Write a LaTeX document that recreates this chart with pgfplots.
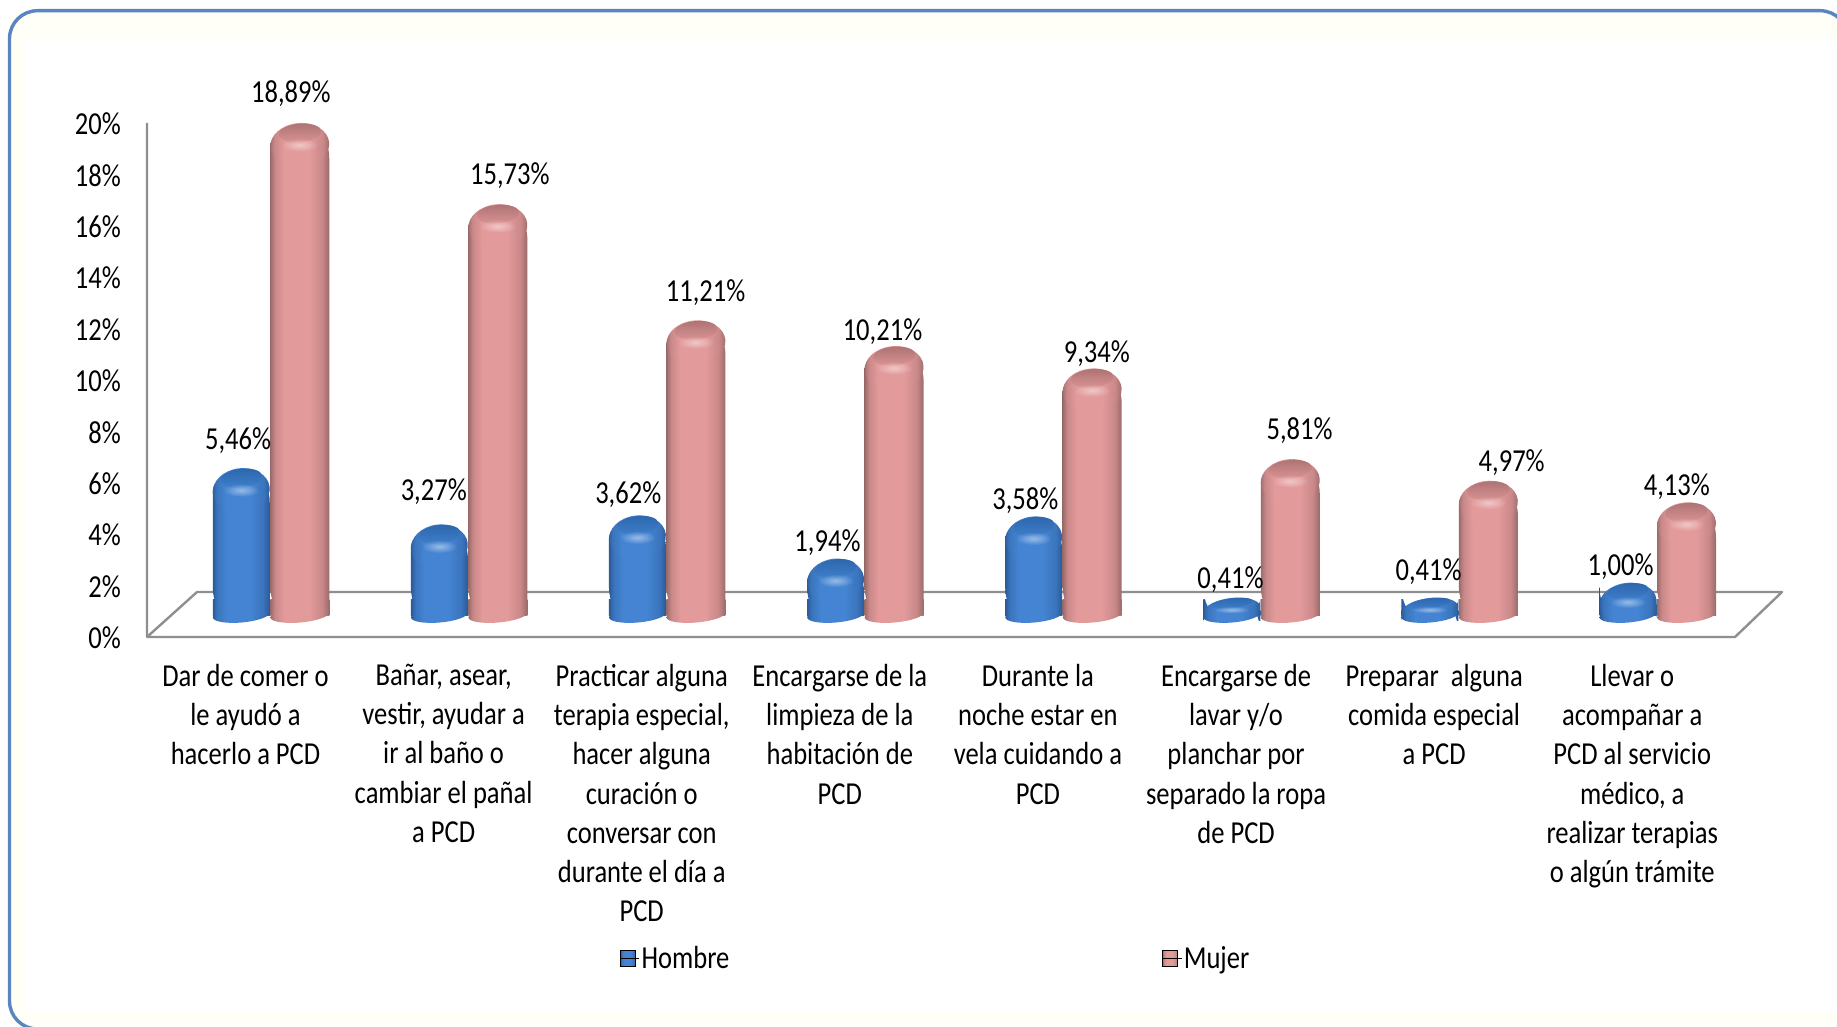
\documentclass[border=0pt]{standalone}
\usepackage{pgfplots}
\pgfplotsset{compat=1.18}
\usepackage{pgfplotstable}
\usepackage{fontspec}
\setmainfont{Carlito}[FakeStretch=0.83]
\usetikzlibrary{fadings,shapes.geometric}
\pgfplotstableread{
i h hdx hdy m mdx mdy
0 5.46 -3.2 34.2 18.89 -8.9 35.7
1 3.27 -5.6 39.0 15.73 12.0 35.0
2 3.62 -9.2 27.7 11.21 9.6 34.0
3 1.94 -8.1 22.6 10.21 -11.6 21.1
4 3.58 -8.3 22.8 9.34 4.7 21.2
5 0.41 -1.3 24.6 5.81 9.3 34.6
6 0.41 -1.3 32.8 4.97 23.3 24.6
7 1.00 -7.4 22.3 4.13 -9.7 22.7
}\datatable
\definecolor{bE}{HTML}{2A5A98}
\definecolor{bM}{HTML}{3A74BC}
\definecolor{bC}{HTML}{4484D2}
\definecolor{bT}{HTML}{2C66AC}
\definecolor{pE}{HTML}{9A6A6A}
\definecolor{pM}{HTML}{C98888}
\definecolor{pC}{HTML}{E39A9B}
\definecolor{pT}{HTML}{AC7272}
\definecolor{framec}{HTML}{5B85C0}
\definecolor{gridc}{HTML}{8F8F8F}
\definecolor{paleb}{HTML}{FFFEF7}
\pgfdeclarehorizontalshading{bluecyl}{100bp}{color(0bp)=(bE);color(25bp)=(bE);color(29bp)=(bM);color(37bp)=(bC);color(58bp)=(bC);color(69bp)=(bM);color(75bp)=(bE);color(100bp)=(bE)}
\pgfdeclarehorizontalshading{pinkcyl}{100bp}{color(0bp)=(pE);color(25bp)=(pE);color(29bp)=(pM);color(37bp)=(pC);color(58bp)=(pC);color(69bp)=(pM);color(75bp)=(pE);color(100bp)=(pE)}
\tikzfading[name=fade out,inner color=transparent!0,outer color=transparent!100]
\tikzset{capnode/.style={shape=ellipse,inner sep=0pt,outer sep=0pt,anchor=center}}
\pgfplotsset{nocoordmark/.style={forget plot,only marks,mark=none,nodes near coords={\null}}}
\begin{document}
\begin{tikzpicture}[x=1pt,y=1pt]
\path[use as bounding box,clip] (0,0) rectangle (1837,1026);
\fill[white] (0,0) rectangle (1837,1026);
\fill[paleb] (10,988) rectangle (1837,1015);
\fill[paleb] (10,0) rectangle (1837,14);
\fill[paleb] (10,0) rectangle (26,1015);
\draw[framec,line width=3.4pt,rounded corners=28pt] (60,-3) -- (9.5,-3) -- (9.5,1015.3) -- (1848,1015.3) -- (1848,900);
% frame, floor and value axis
\begin{axis}[at={(0,0)},anchor=south west,width=1837pt,height=1026pt,scale only axis,
 xmin=0,xmax=1837,ymin=-15.136,ymax=24.786,clip=false,
 axis line style={draw=none},xtick=\empty,
 ytick={0,2,...,20},major tick length=0pt,
 /pgf/number format/assume math mode=true,
 yticklabel={\pgfmathprintnumber{\tick}\%},
 yticklabel style={anchor=east,inner sep=0pt,xshift=121pt,yshift=-1pt,font=\fontsize{32}{39}\selectfont}]
\addplot[gridc,line width=2.4pt,line join=round] coordinates {(147,20) (147,0) (1735,0) (1782,1.75) (197,1.75) (147,0)};
\end{axis}
% bars
\begin{axis}[at={(0,0)},anchor=south west,width=1837pt,height=1026pt,scale only axis,
 xmin=-1.36548,xmax=7.9076,ymin=-15.99,ymax=23.93,clip=false,
 axis line style={draw=none},ytick=\empty,
 xtick={0,...,7},major tick length=0pt,
 xticklabels={{Dar de comer o\\le ayudó a\\hacerlo a PCD},
 {Bañar, asear,\\vestir, ayudar a\\ir al baño o\\cambiar el pañal\\a PCD},
 {Practicar alguna\\terapia especial,\\hacer alguna\\curación o\\conversar con\\durante el día a\\PCD},
 {Encargarse de la\\limpieza de la\\habitación de\\PCD},
 {Durante la\\noche estar en\\vela cuidando a\\PCD},
 {Encargarse de\\lavar y/o\\planchar por\\separado la ropa\\de PCD},
 {Preparar~ alguna\\comida especial\\a PCD},
 {Llevar o\\acompañar a\\PCD al servicio\\médico, a\\realizar terapias\\o algún trámite}},
 xticklabel style={anchor=north,align=center,inner sep=0pt,xshift=-25pt,yshift=362pt,font=\fontsize{32}{39.2}\selectfont},
 /pgf/number format/assume math mode=true,
 legend columns=2,
 legend cell align=left,
 legend style={at={(620/1837,68/1026)},anchor=west,draw=none,fill=none,inner sep=0pt,
   font=\fontsize{32}{38}\selectfont,
   /tikz/every even column/.append style={column sep=431pt}},
 ]
\addlegendimage{legend image code/.code={\fill[shading=bluecyl,shading angle=0] (0pt,-8pt) rectangle (15pt,8pt);\path (0pt,0pt) -- (19pt,0pt);}}
\addlegendentry{Hombre}
\addlegendimage{legend image code/.code={\fill[shading=pinkcyl,shading angle=0] (0pt,-8pt) rectangle (15pt,8pt);\path (0pt,0pt) -- (19pt,0pt);}}
\addlegendentry{Mujer}
% Hombre: base, foot, body, rounded top
\addplot[nocoordmark,nodes near coords style={capnode,xshift=-29.25pt,rotate=5,minimum width=57pt,minimum height=15pt,shading=bluecyl}]
 table[x=i,y expr=0] {\datatable};
\pgfplotsinvokeforeach{0,...,7}{
\addplot[forget plot,ybar,bar width=57pt,bar shift=-29.25pt,draw=none,shading=bluecyl,shading angle=0,
 restrict x to domain=#1:#1] table[x=i,y expr={min(0.62,0.4*\thisrow{h})}] {\datatable};
\addplot[forget plot,ybar,bar width=57pt,bar shift=-29.25pt,draw=none,shading=bluecyl,shading angle=0,
 /utils/exec={\pgfsetcornersarced{\pgfpoint{28pt}{16pt}}},restrict x to domain=#1:#1] table[x=i,y=h] {\datatable};
}
\addplot[nocoordmark,visualization depends on={min(22,(25.7*\thisrow{h}+13)/2)\as\capry},
 nodes near coords style={capnode,xshift=-29.25pt,yshift={(6.5-\capry)*1pt},rotate=7,minimum width=57pt,minimum height={2*\capry*1pt},shading=bluecyl}]
 table[x=i,y=h] {\datatable};
\addplot[nocoordmark,visualization depends on={min(22,(25.7*\thisrow{h}+13)/2)\as\capry},
 nodes near coords style={capnode,xshift=-29.25pt,yshift={(6.5-\capry+.55*\capry)*1pt},rotate=7,minimum width=42pt,minimum height={.84*\capry*1pt},top color=bT,bottom color=bC!85!bT}]
 table[x=i,y=h] {\datatable};
\addplot[nocoordmark,visualization depends on={min(22,(25.7*\thisrow{h}+13)/2)\as\capry},
 nodes near coords style={capnode,xshift=-29.25pt,yshift={(6.5-\capry)*1pt},minimum width=36pt,minimum height={.6*\capry*1pt},fill=white,fill opacity=.45,path fading=fade out}]
 table[x=i,y=h] {\datatable};
% Hombre labels
\addplot[forget plot,only marks,mark=none,
 visualization depends on=\thisrow{hdx}\as\ldx,
 visualization depends on=\thisrow{hdy}\as\ldy,
 nodes near coords={\pgfmathprintnumber[fixed,fixed zerofill,precision=2,use comma]{\pgfplotspointmeta}\%},
 nodes near coords style={anchor=center,inner sep=0pt,xshift=\ldx pt-29.25pt,yshift=\ldy pt,font=\fontsize{32}{39}\selectfont}]
 table[x=i,y=h,meta=h] {\datatable};
% Mujer: base, foot, body, rounded top
\addplot[nocoordmark,nodes near coords style={capnode,xshift=29.25pt,rotate=5,minimum width=59pt,minimum height=15pt,shading=pinkcyl}]
 table[x=i,y expr=0] {\datatable};
\pgfplotsinvokeforeach{0,...,7}{
\addplot[forget plot,ybar,bar width=59pt,bar shift=29.25pt,draw=none,shading=pinkcyl,shading angle=0,
 restrict x to domain=#1:#1] table[x=i,y expr={min(0.62,0.4*\thisrow{m})}] {\datatable};
\addplot[forget plot,ybar,bar width=59pt,bar shift=29.25pt,draw=none,shading=pinkcyl,shading angle=0,
 /utils/exec={\pgfsetcornersarced{\pgfpoint{29pt}{16pt}}},restrict x to domain=#1:#1] table[x=i,y=m] {\datatable};
}
\addplot[nocoordmark,
 nodes near coords style={capnode,xshift=29.25pt,yshift=-15.5pt,rotate=5,minimum width=59pt,minimum height=44pt,shading=pinkcyl}]
 table[x=i,y=m] {\datatable};
\addplot[nocoordmark,
 nodes near coords style={capnode,xshift=29.25pt,yshift=-3.4pt,rotate=5,minimum width=43pt,minimum height=18.5pt,top color=pT,bottom color=pC!85!pT}]
 table[x=i,y=m] {\datatable};
\addplot[nocoordmark,
 nodes near coords style={capnode,xshift=29.25pt,yshift=-15.5pt,minimum width=37pt,minimum height=13pt,fill=white,fill opacity=.45,path fading=fade out}]
 table[x=i,y=m] {\datatable};
% Mujer labels
\addplot[forget plot,only marks,mark=none,
 visualization depends on=\thisrow{mdx}\as\ldx,
 visualization depends on=\thisrow{mdy}\as\ldy,
 nodes near coords={\pgfmathprintnumber[fixed,fixed zerofill,precision=2,use comma]{\pgfplotspointmeta}\%},
 nodes near coords style={anchor=center,inner sep=0pt,xshift=\ldx pt+29.25pt,yshift=\ldy pt,font=\fontsize{32}{39}\selectfont}]
 table[x=i,y=m,meta=m] {\datatable};
\end{axis}
\end{tikzpicture}
\end{document}
